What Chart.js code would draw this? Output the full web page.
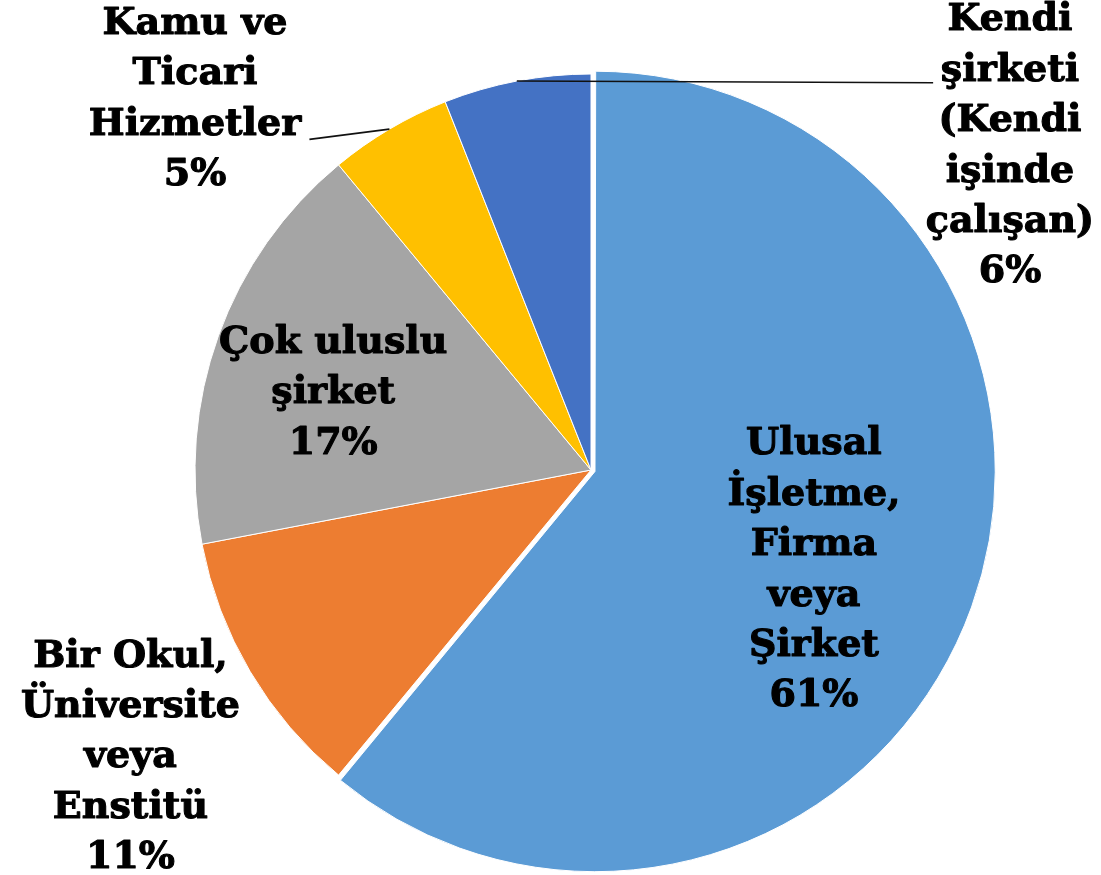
<!DOCTYPE html>
<html lang="tr">
<head>
  <meta charset="UTF-8">
  <title>Pasta Grafiği</title>
  <script src="https://cdn.jsdelivr.net/npm/chart.js"></script>
  <style>
    body { margin: 0; background: #fff; }
  </style>
</head>
<body>
  <canvas id="pieChart" width="1101" height="875"></canvas>

  <script>
    // Kategoriler ve değerler
    const categories = [
      'Ulusal İşletme, Firma veya Şirket',
      'Bir Okul, Üniversite veya Enstitü',
      'Çok uluslu şirket',
      'Kamu ve Ticari Hizmetler',
      'Kendi şirketi (Kendi işinde çalışan)'
    ];
    const values = [61, 11, 17, 5, 6];
    const percentLabels = ['61%', '11%', '17%', '5%', '6%'];
    const labelLines = [
      ['Ulusal', 'İşletme,', 'Firma', 'veya', 'Şirket'],
      ['Bir Okul,', 'Üniversite', 'veya', 'Enstitü'],
      ['Çok uluslu', 'şirket'],
      ['Kamu ve', 'Ticari', 'Hizmetler'],
      ['Kendi', 'şirketi', '(Kendi', 'işinde', 'çalışan)']
    ];
    const colors = ['#5B9BD5', '#ED7D31', '#A5A5A5', '#FFC000', '#4472C4'];

    // Etiket yerleri (yarıçap birimi, merkeze göre)
    const labelPos = [[0.563, 0.254], [-1.163, 0.726], [-0.651, -0.193], [-1.0, -0.935], [1.058, -0.817]];
    // Kılavuz çizgisi başlangıcı (yarıçap birimi), null = çizgi yok
    const leaderStart = [null, null, null, [-0.711, -0.835], [0.864, -0.978]];

    const labelPlugin = {
      id: 'pieLabels',
      afterDatasetsDraw(chart) {
        const ctx = chart.ctx;
        const arcs = chart.getDatasetMeta(0).data;
        const cx = arcs[0].x, cy = arcs[0].y;
        const r = arcs[arcs.length - 1].outerRadius;
        ctx.save();

        // kılavuz çizgileri
        ctx.strokeStyle = '#111';
        ctx.lineWidth = 1.6;
        arcs.forEach((arc, i) => {
          if (!leaderStart[i]) return;
          const mid = (arc.startAngle + arc.endAngle) / 2;
          ctx.beginPath();
          ctx.moveTo(cx + leaderStart[i][0] * r, cy + leaderStart[i][1] * r);
          ctx.lineTo(cx + Math.cos(mid) * r, cy + Math.sin(mid) * r);
          ctx.stroke();
        });

        // yazılar
        ctx.font = 'bold 38px "DejaVu Serif"';
        ctx.fillStyle = '#000';
        ctx.strokeStyle = '#000';
        ctx.lineWidth = 1.1;
        ctx.lineJoin = 'round';
        ctx.textAlign = 'center';
        ctx.textBaseline = 'middle';
        const lh = 50.4;
        arcs.forEach((arc, i) => {
          const lines = labelLines[i].concat([percentLabels[i]]);
          const x = cx + labelPos[i][0] * r;
          const y0 = cy + labelPos[i][1] * r - (lines.length - 1) * lh / 2;
          lines.forEach((t, k) => {
            ctx.fillText(t, x, y0 + k * lh);
            ctx.strokeText(t, x, y0 + k * lh);
          });
        });
        ctx.restore();
      }
    };

    const ctx = document.getElementById('pieChart').getContext('2d');
    const pieChart = new Chart(ctx, {
      type: 'pie',
      data: {
        labels: categories,
        datasets: [{
          data: values,
          backgroundColor: colors,
          borderColor: '#fff',
          borderWidth: 1,
          offset: [17, 0, 0, 0, 0]
        }]
      },
      options: {
        responsive: false,
        animation: false,
        layout: { padding: { top: 65, bottom: -5, left: 184, right: 103 } },
        plugins: {
          legend: { display: false },
          tooltip: { enabled: false }
        }
      },
      plugins: [labelPlugin]
    });
  </script>
</body>
</html>
